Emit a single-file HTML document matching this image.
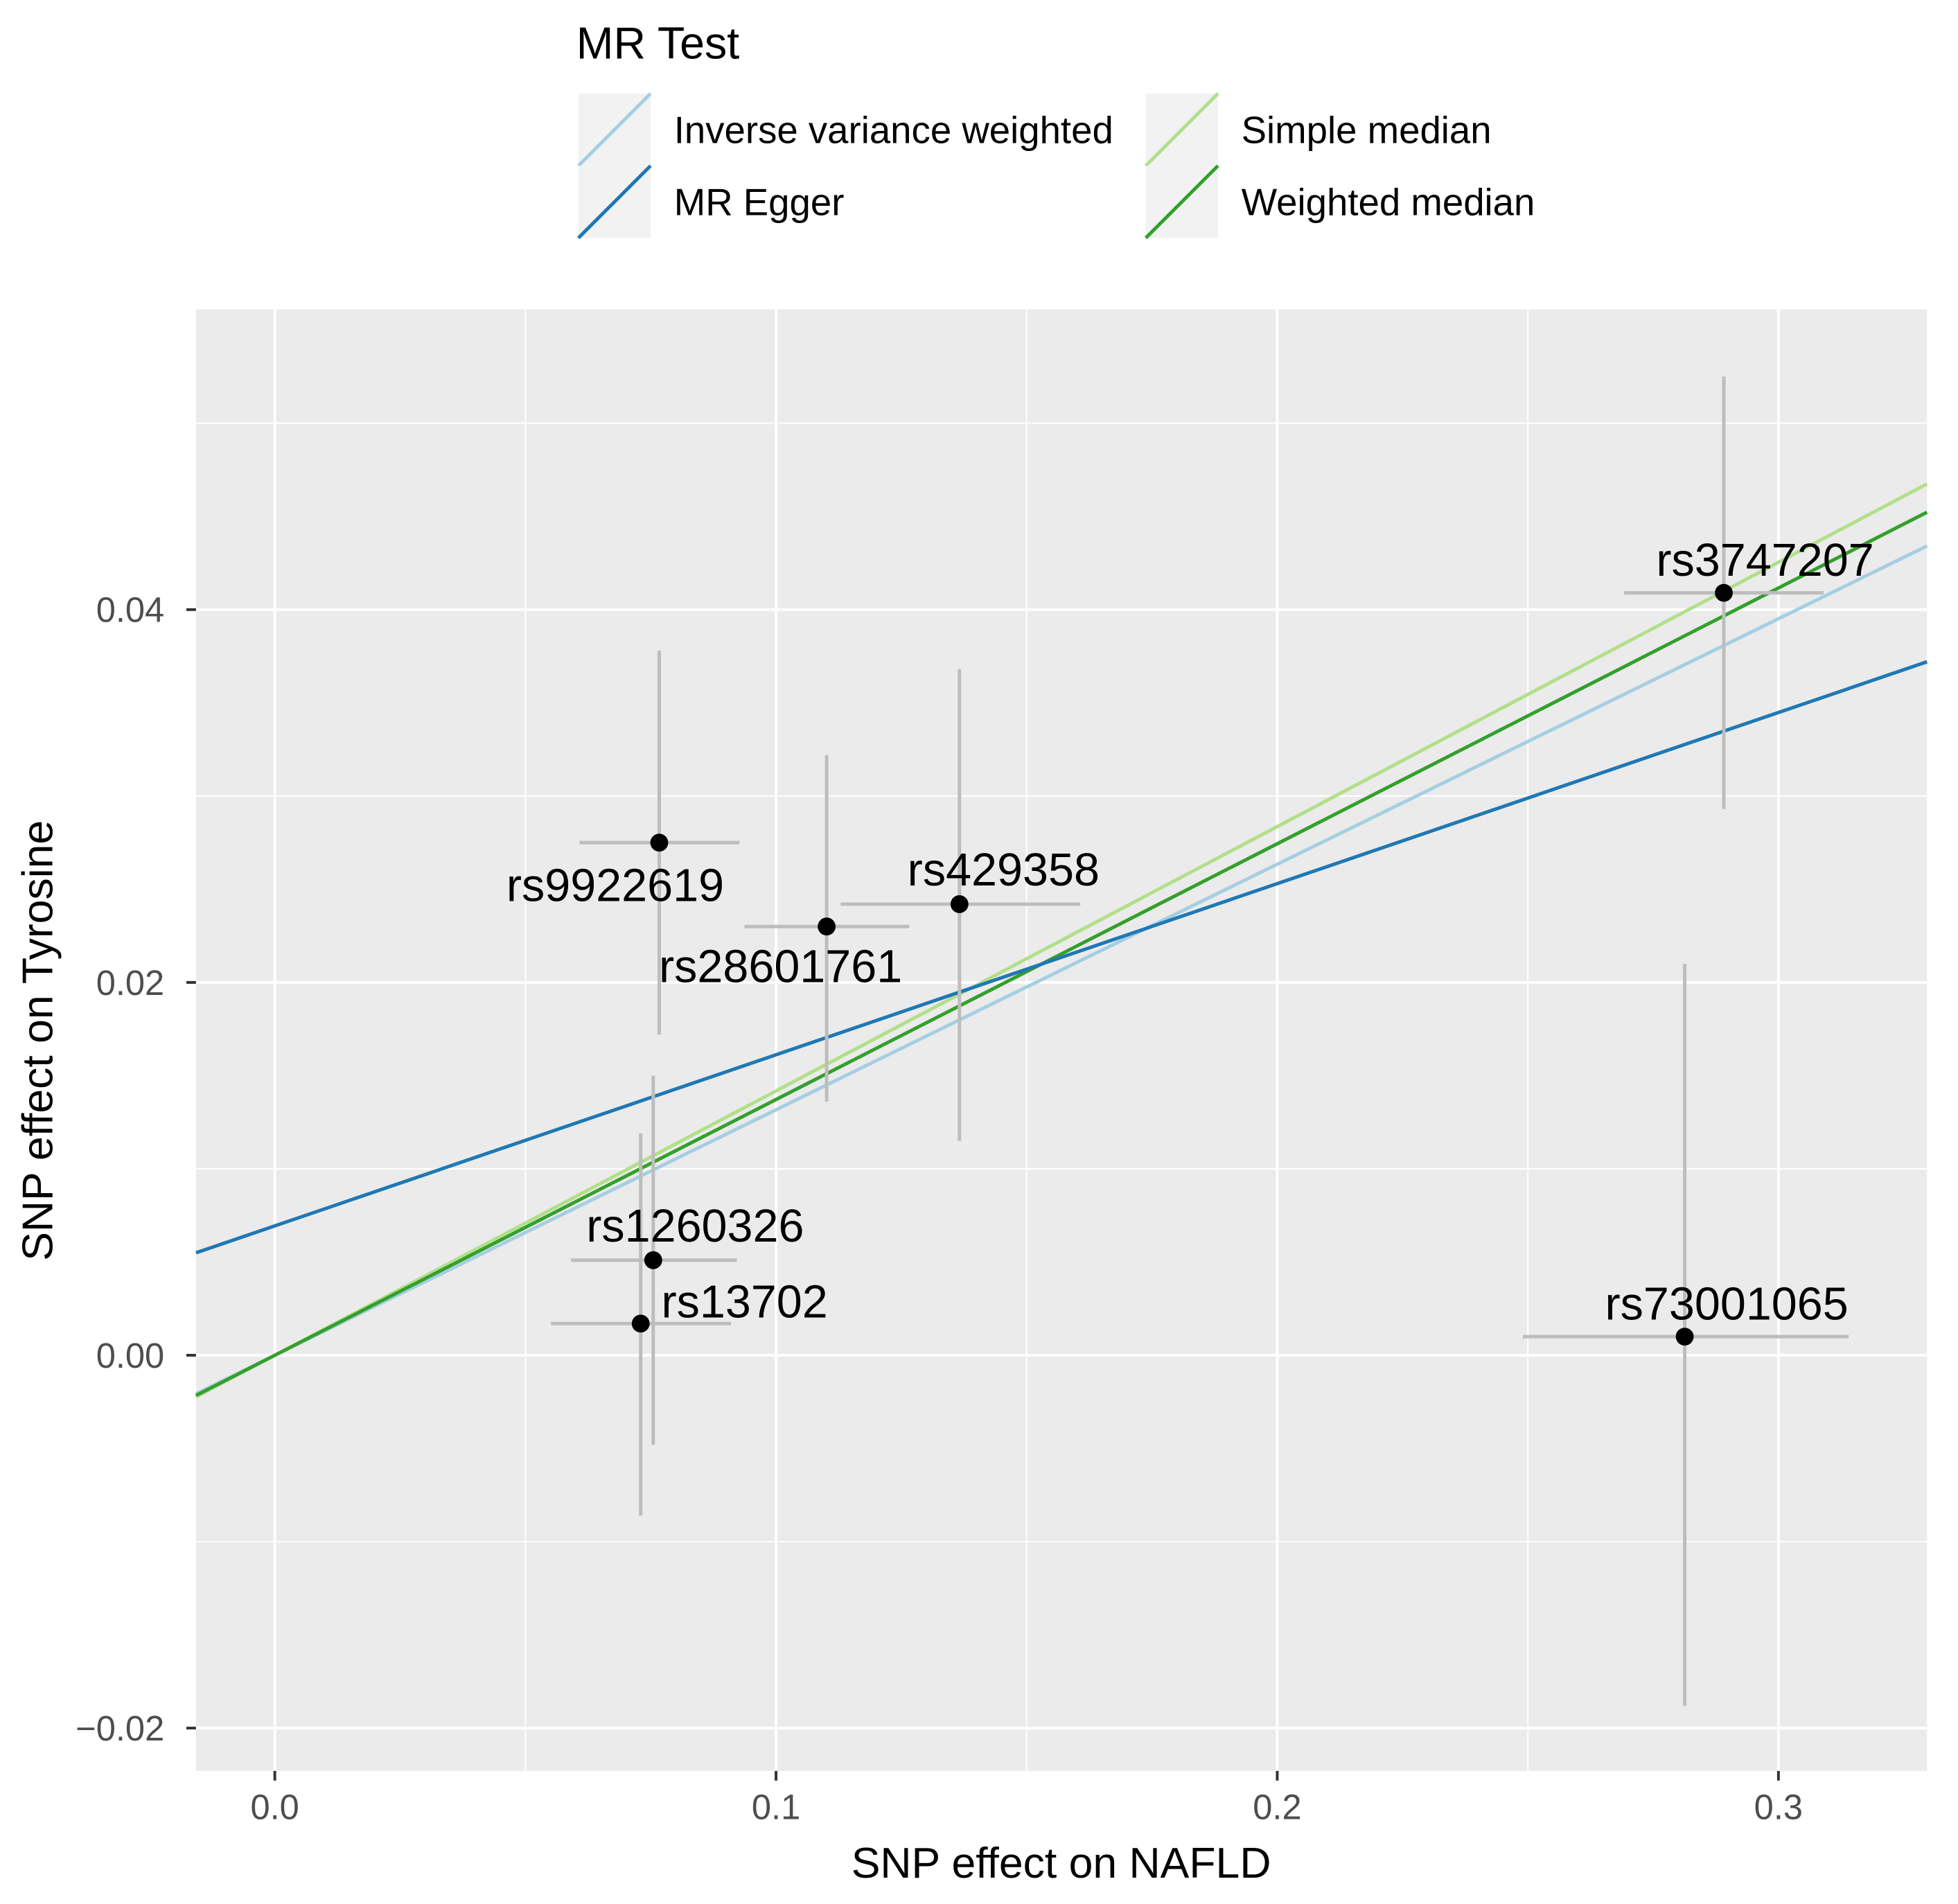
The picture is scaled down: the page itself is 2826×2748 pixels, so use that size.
<!DOCTYPE html>
<html><head><meta charset="utf-8"><style>
html,body{margin:0;padding:0;background:#fff;}
svg{display:block;font-family:"Liberation Sans",Arial,sans-serif;}
</style></head><body>
<svg id="chart" width="2826" height="2748" viewBox="0 0 2826 2748">
<g transform="scale(0.9926)">
<rect x="285" y="450" width="2517" height="2125" fill="#ebebeb"/>
<g id="grid"></g><g id="lines"></g><g id="errs"></g><g id="pts"></g><g id="labels"></g><g id="axes"></g>
<g>
<text x="838" y="85" font-size="65" fill="#000">MR Test</text>
<g>
<rect x="841" y="136" width="105" height="105" fill="#f2f2f2"/><line x1="841" y1="241" x2="946" y2="136" stroke="#a6cee3" stroke-width="5"/>
<text x="980" y="208" font-size="55">Inverse variance weighted</text></g>
<g>
<rect x="841" y="241" width="105" height="105" fill="#f2f2f2"/><line x1="841" y1="346" x2="946" y2="241" stroke="#1f78b4" stroke-width="5"/>
<text x="980" y="313" font-size="55">MR Egger</text></g>
<g>
<rect x="1666" y="136" width="105" height="105" fill="#f2f2f2"/><line x1="1666" y1="241" x2="1771" y2="136" stroke="#b2df8a" stroke-width="5"/>
<text x="1805" y="208" font-size="55">Simple median</text></g>
<g>
<rect x="1666" y="241" width="105" height="105" fill="#f2f2f2"/><line x1="1666" y1="346" x2="1771" y2="241" stroke="#33a02c" stroke-width="5"/>
<text x="1805" y="313" font-size="55">Weighted median</text></g>
</g>
<text x="1543" y="2730" font-size="63" text-anchor="middle">SNP effect on NAFLD</text>
<text transform="translate(76,1513) rotate(-90)" font-size="63" text-anchor="middle">SNP effect on Tyrosine</text>
</g>
</svg>
<script>
const snps=["rs9922619","rs28601761","rs429358","rs3747207","rs1260326","rs13702","rs73001065"];
const bx=[0.0767,0.1101,0.1366,0.2891,0.0755,0.0730,0.2813];
const by=[0.0275,0.0230,0.0242,0.0409,0.0051,0.0017,0.0010];
const xlo=[0.0608,0.0937,0.1129,0.2692,0.0591,0.0551,0.2490];
const xhi=[0.0927,0.1266,0.1607,0.3090,0.0922,0.0910,0.3140];
const ylo=[0.0172,0.0136,0.0115,0.0293,-0.0048,-0.0086,-0.0188];
const yhi=[0.0378,0.0322,0.0368,0.0525,0.0150,0.0119,0.0210];
const methods=["ivw","egger","simple-median","weighted-median"];
const slopes=[0.1317,0.0918,0.1418,0.1372];
const intercepts=[0,0.00694,0,0];
const xTicks=[0,0.1,0.2,0.3];
const xTickLabels=["0.0","0.1","0.2","0.3"];
const yTicks=[-0.02,0,0.02,0.04];
const yTickLabels=["\u22120.02","0.00","0.02","0.04"];
const xMinor=[0.05,0.15,0.25];
const yMinor=[-0.01,0.01,0.03,0.05];
const colors=["#a6cee3","#1f78b4","#b2df8a","#33a02c"];
const labOff=[[-64,62],[-67,58],[64,-50],[60,-48],[61,-50],[151,-32],[61,-48]];
const PX0=285,PX1=2802,PY0=450,PY1=2575;
function X(v){return 399.6+v*7288;}
function Y(v){return 1970.6-v*27105;}
const NS="http://www.w3.org/2000/svg";
function mk(t,a,p){const e=document.createElementNS(NS,t);for(const k in a)e.setAttribute(k,a[k]);p.appendChild(e);return e;}
const g=document.getElementById('grid');
xMinor.forEach(v=>{const e=mk('line',{x1:X(v),x2:X(v),y1:PY0,y2:PY1,stroke:'#fff','stroke-width':2},g);

});
yMinor.forEach(v=>{const e=mk('line',{x1:PX0,x2:PX1,y1:Y(v),y2:Y(v),stroke:'#fff','stroke-width':2},g);

});
const ax=document.getElementById('axes');
xTicks.forEach((v,i)=>{const e=mk('line',{x1:X(v),x2:X(v),y1:PY0,y2:PY1,stroke:'#fff','stroke-width':4},g);


mk('line',{x1:X(v),x2:X(v),y1:PY1,y2:PY1+14,stroke:'#333','stroke-width':4},ax);
const t=mk('text',{x:X(v),y:PY1+70,'font-size':51,fill:'#4d4d4d','text-anchor':'middle'},ax);t.textContent=xTickLabels[i];

});
yTicks.forEach((v,i)=>{const e=mk('line',{x1:PX0,x2:PX1,y1:Y(v),y2:Y(v),stroke:'#fff','stroke-width':4},g);


mk('line',{x1:PX0-14,x2:PX0,y1:Y(v),y2:Y(v),stroke:'#333','stroke-width':4},ax);
const t=mk('text',{x:PX0-46,y:Y(v)+18,'font-size':51,fill:'#4d4d4d','text-anchor':'end'},ax);t.textContent=yTickLabels[i];

});
const xa=(PX0-399.6)/7288, xb=(PX1-399.6)/7288;
const L=document.getElementById('lines');
[0,2,3,1].forEach(i=>{const e=mk('line',{x1:PX0,y1:Y(intercepts[i]+slopes[i]*xa),x2:PX1,y2:Y(intercepts[i]+slopes[i]*xb),stroke:colors[i],'stroke-width':5},L);

});
const E=document.getElementById('errs'),P=document.getElementById('pts'),T=document.getElementById('labels');
snps.forEach((s,i)=>{
const h=mk('line',{x1:X(xlo[i]),x2:X(xhi[i]),y1:Y(by[i]),y2:Y(by[i]),stroke:'#bdbdbd','stroke-width':5},E);


const v=mk('line',{x1:X(bx[i]),x2:X(bx[i]),y1:Y(ylo[i]),y2:Y(yhi[i]),stroke:'#bdbdbd','stroke-width':5},E);


const c=mk('circle',{cx:X(bx[i]),cy:Y(by[i]),r:13,fill:'#000'},P);


const t=mk('text',{x:X(bx[i])+labOff[i][0],y:Y(by[i])+labOff[i][1]+23,'font-size':67,'text-anchor':'middle',fill:'#000'},T);
t.textContent=s;


});
</script>
</body></html>
